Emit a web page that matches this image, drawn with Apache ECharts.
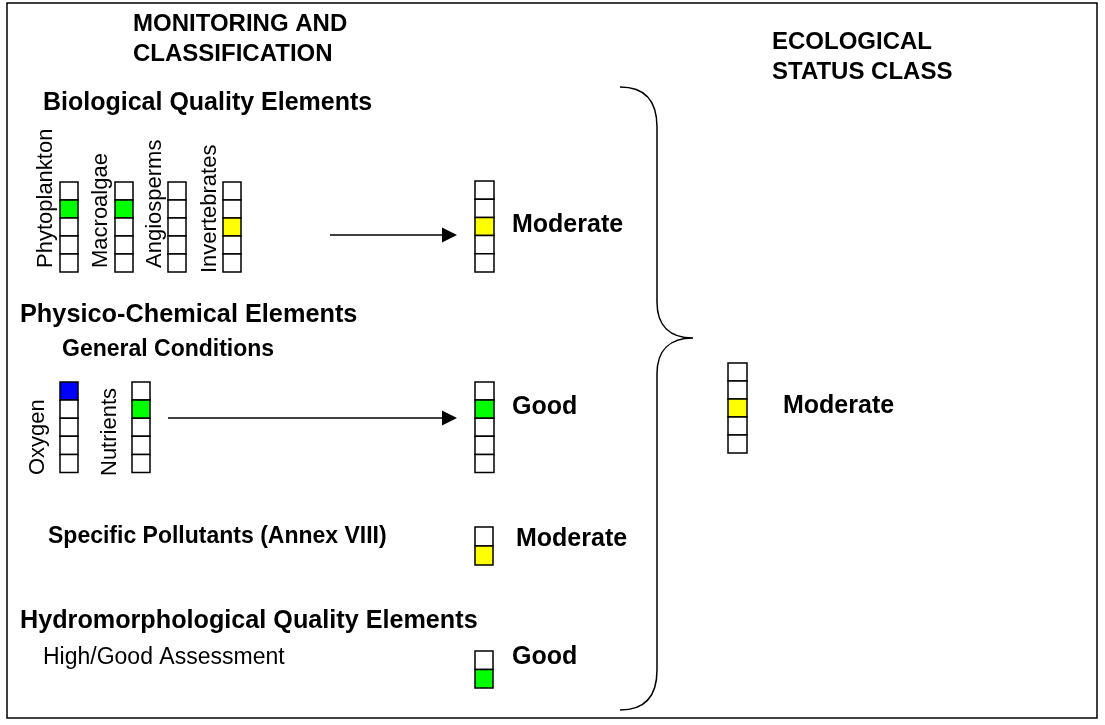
<!DOCTYPE html>
<html><head><meta charset="utf-8">
<script src="https://cdn.jsdelivr.net/npm/echarts@6/dist/echarts.min.js"></script>
<style>html,body{margin:0;padding:0;background:#fff}#c{width:1105px;height:725px}</style>
</head><body><div id="c"></div>
<script>
// ---------- DATA ----------
const statusClasses = ['High', 'Good', 'Moderate', 'Poor', 'Bad'];
const bioElements = ['Phytoplankton', 'Macroalgae', 'Angiosperms', 'Invertebrates'];
const bioStatus = ['Good', 'Good', null, 'Moderate'];
const bioResult = 'Moderate';
const physElements = ['Oxygen', 'Nutrients'];
const physStatus = ['High', 'Good'];
const physResult = 'Good';
const pollutantClasses = ['Good', 'Moderate'];
const pollutantResult = 'Moderate';
const hydroClasses = ['High', 'Good'];
const hydroResult = 'Good';
const overallResult = 'Moderate';
const headings = {
  monitoring: ['MONITORING AND', 'CLASSIFICATION'],
  ecological: ['ECOLOGICAL', 'STATUS CLASS'],
  bio: 'Biological Quality Elements',
  phys: 'Physico-Chemical Elements',
  general: 'General Conditions',
  pollutants: 'Specific Pollutants (Annex VIII)',
  hydro: 'Hydromorphological Quality Elements',
  hydroSub: 'High/Good Assessment'
};

// ---------- STYLE / LAYOUT ----------
const classColors = { High: '#0000FF', Good: '#00FF00', Moderate: '#FFFF00', Poor: '#FF8000', Bad: '#FF0000' };
const FONT = "'Liberation Sans', Arial, sans-serif";
const fBold = s => 'bold ' + s + 'px ' + FONT;
const fNorm = s => s + 'px ' + FONT;

const boxes = [];
const bioX = [60, 115, 168, 223];
bioElements.forEach((n, i) => boxes.push({ x: bioX[i], top: 182, w: 18, h: 18, classes: statusClasses, value: bioStatus[i] }));
boxes.push({ x: 475, top: 181, w: 19, h: 18.2, classes: statusClasses, value: bioResult });
const physX = [60, 132];
physElements.forEach((n, i) => boxes.push({ x: physX[i], top: 382, w: 18, h: 18.1, classes: statusClasses, value: physStatus[i] }));
boxes.push({ x: 475, top: 382, w: 19, h: 18.1, classes: statusClasses, value: physResult });
boxes.push({ x: 475, top: 527, w: 18, h: 19, classes: pollutantClasses, value: pollutantResult });
boxes.push({ x: 475, top: 651, w: 18, h: 18.5, classes: hydroClasses, value: hydroResult });
boxes.push({ x: 728, top: 363, w: 19, h: 18, classes: statusClasses, value: overallResult });

const texts = [
  { t: headings.monitoring[0], x: 133, y: 24, f: fBold(24) },
  { t: headings.monitoring[1], x: 133, y: 54, f: fBold(24) },
  { t: headings.ecological[0], x: 772, y: 42, f: fBold(24) },
  { t: headings.ecological[1], x: 772, y: 72, f: fBold(24) },
  { t: headings.bio, x: 43, y: 103, f: fBold(25) },
  { t: headings.phys, x: 20, y: 315, f: fBold(25.3) },
  { t: headings.general, x: 62, y: 350, f: fBold(23) },
  { t: headings.pollutants, x: 48, y: 537, f: fBold(23) },
  { t: headings.hydro, x: 20, y: 621, f: fBold(25.2) },
  { t: headings.hydroSub, x: 43, y: 658, f: fNorm(23) },
  { t: bioResult, x: 512, y: 225, f: fBold(25) },
  { t: physResult, x: 512, y: 407, f: fBold(25) },
  { t: pollutantResult, x: 516, y: 539, f: fBold(25) },
  { t: hydroResult, x: 512, y: 657, f: fBold(25) },
  { t: overallResult, x: 783, y: 406, f: fBold(25) }
];
const bioLabelPos = [[46, 268], [101, 268], [155, 268], [210, 273]];
bioElements.forEach((n, i) => texts.push({ t: n, x: bioLabelPos[i][0], y: bioLabelPos[i][1], f: fNorm(22), rot: true }));
const physLabelPos = [[38, 475], [110, 476]];
physElements.forEach((n, i) => texts.push({ t: n, x: physLabelPos[i][0], y: physLabelPos[i][1], f: fNorm(22), rot: true }));

const arrows = [
  { x0: 330, x1: 457, y: 235 },
  { x0: 168, x1: 457, y: 418 }
];
const frame = { x0: 7, y0: 3, x1: 1097, y1: 718 };

// ---------- RENDER ----------
function renderBox(params, api) {
  const b = boxes[api.value(0)];
  const children = b.classes.map((cls, i) => {
    const p0 = api.coord([b.x, b.top + i * b.h]);
    const p1 = api.coord([b.x + b.w, b.top + (i + 1) * b.h]);
    return {
      type: 'rect',
      shape: { x: p0[0], y: p0[1], width: p1[0] - p0[0], height: p1[1] - p0[1] },
      style: { fill: cls === b.value ? classColors[cls] : '#ffffff', stroke: '#000', lineWidth: 1.5 }
    };
  });
  return { type: 'group', children };
}
function renderText(params, api) {
  const t = texts[api.value(0)];
  const p = api.coord([t.x, t.y]);
  return {
    type: 'text', x: p[0], y: p[1], rotation: t.rot ? Math.PI / 2 : 0,
    style: { text: t.t, font: t.f, fill: '#000', align: 'left', verticalAlign: 'middle' }
  };
}
function renderArrow(params, api) {
  const a = arrows[api.value(0)];
  const p0 = api.coord([a.x0, a.y]);
  const p1 = api.coord([a.x1, a.y]);
  const head = 15, half = 7.5;
  return {
    type: 'group', children: [
      { type: 'line', shape: { x1: p0[0], y1: p0[1], x2: p1[0] - head + 1, y2: p1[1] }, style: { stroke: '#000', lineWidth: 1.5 } },
      { type: 'polygon', shape: { points: [[p1[0], p1[1]], [p1[0] - head, p1[1] - half], [p1[0] - head, p1[1] + half]] }, style: { fill: '#000' } }
    ]
  };
}
function renderBrace(params, api) {
  const c = (x, y) => api.coord([x, y]).map(v => v.toFixed(1)).join(' ');
  const d = 'M ' + c(620, 87) +
    ' C ' + c(645, 87) + ' ' + c(657, 100) + ' ' + c(657, 127) +
    ' L ' + c(657, 302) +
    ' C ' + c(657, 326) + ' ' + c(670, 338) + ' ' + c(693, 338) +
    ' C ' + c(670, 338) + ' ' + c(657, 350) + ' ' + c(657, 374) +
    ' L ' + c(657, 670) +
    ' C ' + c(657, 697) + ' ' + c(645, 710) + ' ' + c(620, 710);
  return { type: 'path', shape: { pathData: d }, style: { fill: null, stroke: '#000', lineWidth: 1.5 } };
}
function renderFrame(params, api) {
  const p0 = api.coord([frame.x0, frame.y0]);
  const p1 = api.coord([frame.x1, frame.y1]);
  return { type: 'rect', shape: { x: p0[0], y: p0[1], width: p1[0] - p0[0], height: p1[1] - p0[1] }, style: { fill: null, stroke: '#000', lineWidth: 1.5 } };
}

const chart = echarts.init(document.getElementById('c'), null, { renderer: 'canvas' });
const common = { type: 'custom', silent: true, clip: false, animation: false };
chart.setOption({
  animation: false,
  backgroundColor: '#ffffff',
  grid: { left: 0, right: 0, top: 0, bottom: 0 },
  xAxis: { type: 'value', min: 0, max: 1105, show: false },
  yAxis: { type: 'value', min: 0, max: 725, inverse: true, show: false },
  series: [
    Object.assign({ renderItem: renderFrame, data: [[0]] }, common),
    Object.assign({ renderItem: renderBrace, data: [[0]] }, common),
    Object.assign({ renderItem: renderArrow, data: arrows.map((a, i) => [i]) }, common),
    Object.assign({ renderItem: renderBox, data: boxes.map((b, i) => [i]) }, common),
    Object.assign({ renderItem: renderText, data: texts.map((t, i) => [i]) }, common)
  ]
});
</script></body></html>
